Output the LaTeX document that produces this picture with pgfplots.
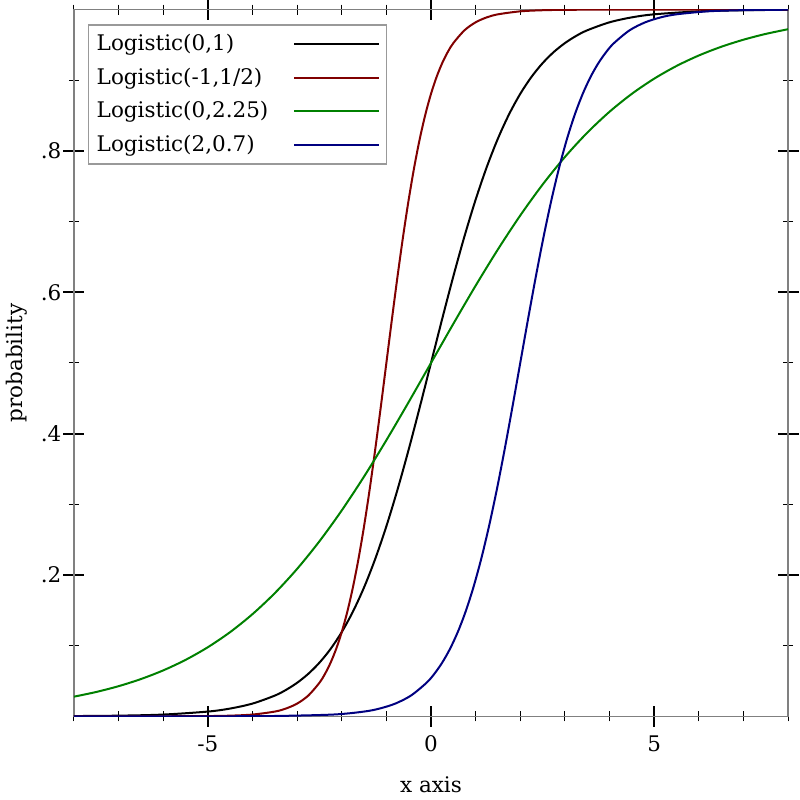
\documentclass[border=0pt]{standalone}
\usepackage{fontspec}
\setmainfont{DejaVu Serif}
\usepackage{pgfplots}
\pgfplotsset{compat=1.18}

\definecolor{cdred}{RGB}{128,0,0}
\definecolor{cdgreen}{RGB}{0,128,0}
\definecolor{cdblue}{RGB}{0,0,128}
\definecolor{framegray}{RGB}{128,128,128}
\definecolor{legendgray}{RGB}{153,153,153}

\begin{document}
\fontsize{21.5bp}{26bp}\selectfont
\begin{tikzpicture}
\begin{axis}[
  at={(0bp,0bp)}, anchor=south west,
  width=714bp, height=706.7bp, scale only axis,
  xmin=-8, xmax=8, ymin=0, ymax=1,
  font=\fontsize{21.5bp}{26bp}\selectfont,
  axis line style={draw=framegray, line width=1.5bp},
  tickpos=both, tick align=center,
  xticklabel pos=lower, yticklabel pos=left,
  major tick length=21bp, minor tick length=10bp,
  major tick style={black, line width=2bp},
  minor tick style={black, line width=1bp},
  xtick={-5,0,5}, xticklabels={-5,0,5},
  minor xtick={-8,-7,-6,-4,-3,-2,-1,1,2,3,4,6,7,8},
  ytick={0.2,0.4,0.6,0.8}, yticklabels={.2,.4,.6,.8},
  minor ytick={0.1,0.3,0.5,0.7,0.9},
  xticklabel style={anchor=base, inner sep=0pt, yshift=-24.5bp},
  yticklabel style={anchor=east, inner sep=0pt, xshift=-2bp},
  xlabel={x axis}, ylabel={probability},
  xlabel style={at={(axis description cs:0.5,-0.108)}, anchor=base, inner sep=0pt},
  ylabel style={at={(axis description cs:-0.0952,0.5)}, anchor=north, inner sep=0pt, rotate=0},
  no markers,
  every axis plot/.append style={line width=2bp, smooth},
  legend style={at={(axis description cs:0.0196,0.9796)}, anchor=north west,
    draw=legendgray, line width=1.5bp, fill=white,
    inner xsep=6bp, inner ysep=7.5bp, row sep=10bp, column sep=23bp,
    font=\fontsize{21.5bp}{26bp}\selectfont},
  legend cell align=left,
  legend plot pos=right,
  legend image code/.code={\draw[#1, line width=2bp] (0bp,0bp) -- (85bp,0bp);},
]
% Logistic(0,1)
\addplot[black] coordinates {
(-8,0.00034) (-7,0.00091) (-6,0.00247) (-5,0.00669) (-4.5,0.01099) (-4,0.01799)
(-3.5,0.02931) (-3.25,0.03733) (-3,0.04743) (-2.75,0.06009) (-2.5,0.07586)
(-2.25,0.09535) (-2,0.11920) (-1.75,0.14805) (-1.5,0.18243)
(-1.25,0.22270) (-1,0.26894) (-0.75,0.32082) (-0.5,0.37754) (-0.25,0.43782) (0,0.5)
(0.25,0.56218) (0.5,0.62246) (0.75,0.67918) (1,0.73106) (1.25,0.77730) (1.5,0.81757)
(1.75,0.85195) (2,0.88080) (2.25,0.90465) (2.5,0.92414) (2.75,0.93991) (3,0.95257)
(3.25,0.96267) (3.5,0.97069) (4,0.98201)
(4.5,0.98901) (5,0.99331) (6,0.99753) (7,0.99909) (8,0.99966)};
\addlegendentry{Logistic(0,1)}
% Logistic(-1,1/2)
\addplot[cdred] coordinates {
(-8,0.0000008) (-6,0.0000454) (-5,0.00034) (-4.5,0.00091) (-4,0.00247) (-3.5,0.00669)
(-3.25,0.01099) (-3,0.01799) (-2.75,0.02931) (-2.5,0.04743) (-2.375,0.06009)
(-2.25,0.07586) (-2.125,0.09535) (-2,0.11920)
(-1.875,0.14805) (-1.75,0.18243) (-1.625,0.22270) (-1.5,0.26894) (-1.375,0.32082)
(-1.25,0.37754) (-1.125,0.43782) (-1,0.5) (-0.875,0.56218) (-0.75,0.62246)
(-0.625,0.67918) (-0.5,0.73106) (-0.375,0.77730) (-0.25,0.81757) (-0.125,0.85195)
(0,0.88080) (0.125,0.90465) (0.25,0.92414) (0.375,0.93991) (0.5,0.95257)
(0.75,0.97069) (1,0.98201) (1.25,0.98901)
(1.5,0.99331) (2,0.99753) (2.5,0.99909) (3,0.99966) (4,0.99995) (6,1.0) (8,1.0)};
\addlegendentry{Logistic(-1,1/2)}
% Logistic(0,2.25)
\addplot[cdgreen] coordinates {
(-8,0.02777) (-7.5,0.03444) (-7,0.04265) (-6.5,0.05271) (-6,0.06497) (-5.5,0.07984)
(-5,0.09778) (-4.5,0.11920) (-4,0.14458) (-3.5,0.17428) (-3,0.20861) (-2.5,0.24765)
(-2,0.29133) (-1.5,0.33925) (-1,0.39069) (-0.5,0.44467) (0,0.5) (0.5,0.55533)
(1,0.60931) (1.5,0.66075) (2,0.70867) (2.5,0.75235) (3,0.79139) (3.5,0.82572)
(4,0.85542) (4.5,0.88080) (5,0.90222) (5.5,0.92016) (6,0.93503) (6.5,0.94729)
(7,0.95735) (7.5,0.96556) (8,0.97223)};
\addlegendentry{Logistic(0,2.25)}
% Logistic(2,0.7)
\addplot[cdblue] coordinates {
(-8,0.0000006) (-5,0.0000454) (-3.6,0.00034) (-2.2,0.00247) (-1.5,0.00669)
(-1.15,0.01099) (-0.8,0.01799) (-0.45,0.02931) (-0.1,0.04743) (0.075,0.06009)
(0.25,0.07586) (0.425,0.09535)
(0.6,0.11920) (0.775,0.14805) (0.95,0.18243) (1.125,0.22270) (1.3,0.26894)
(1.475,0.32082) (1.65,0.37754) (1.825,0.43782) (2,0.5) (2.175,0.56218) (2.35,0.62246)
(2.525,0.67918) (2.7,0.73106) (2.875,0.77730) (3.05,0.81757) (3.225,0.85195)
(3.4,0.88080) (3.575,0.90465) (3.75,0.92414) (3.925,0.93991) (4.1,0.95257)
(4.45,0.97069) (4.8,0.98201) (5.15,0.98901)
(5.5,0.99331) (6.2,0.99753) (6.9,0.99909) (7.6,0.99966) (8,0.99981)};
\addlegendentry{Logistic(2,0.7)}
\end{axis}
\pgfresetboundingbox
\path[use as bounding box] (-74bp,-83.7bp) rectangle (726bp,716.3bp);
\end{tikzpicture}
\end{document}
